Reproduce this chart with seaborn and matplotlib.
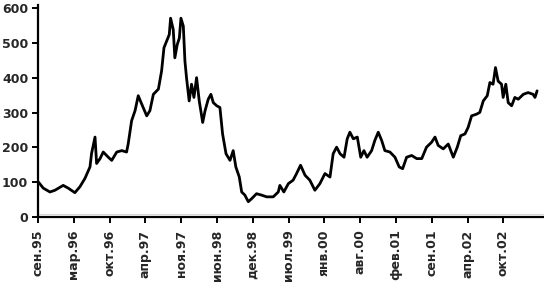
import matplotlib
matplotlib.use("Agg")
import matplotlib.pyplot as plt
import seaborn as sns
import pandas as pd

# trading-day index (approximate) and index values
day = [1, 20, 45, 64, 95, 114, 139, 158, 177, 196, 202, 215, 221, 234, 246, 265,
       278, 297, 316, 334, 340, 353, 366, 378, 391, 410, 422, 435, 454, 466, 475,
       485, 495, 500, 510, 516, 525, 533, 539, 548, 554, 560, 570, 579, 588, 598,
       608, 621, 630, 642, 652, 661, 674, 686, 696, 709, 724, 736, 746, 759, 768,
       780, 793, 806, 824, 843, 862, 887, 906, 912, 927, 944, 962, 975, 990, 1007,
       1025, 1044, 1063, 1082, 1101, 1113, 1126, 1139, 1154, 1166, 1176, 1189,
       1204, 1217, 1229, 1241, 1258, 1270, 1283, 1296, 1308, 1327, 1346, 1362,
       1375, 1390, 1409, 1428, 1447, 1465, 1484, 1497, 1509, 1528, 1547, 1566,
       1581, 1594, 1610, 1622, 1635, 1654, 1666, 1679, 1694, 1704, 1716, 1725,
       1735, 1748, 1754, 1764, 1773, 1786, 1798, 1811, 1830, 1848, 1867, 1874, 1882]
value = [101, 83, 72, 77, 91, 83, 70, 87, 111, 144, 183, 230, 154, 168, 187, 172,
         163, 187, 191, 187, 210, 277, 306, 349, 325, 291, 306, 353, 368, 420, 487,
         506, 525, 572, 539, 458, 496, 515, 572, 549, 449, 401, 334, 382, 344, 401,
         334, 272, 306, 339, 353, 329, 320, 315, 239, 182, 163, 191, 144, 115, 72,
         63, 44, 53, 67, 63, 58, 58, 72, 91, 72, 96, 106, 125, 149, 120,
         106, 77, 96, 125, 115, 182, 201, 182, 172, 225, 244, 225,
         230, 172, 191, 172, 191, 220, 244, 220, 191, 187, 172, 144,
         139, 172, 177, 168, 168, 201, 215, 230, 206, 196, 210, 172,
         201, 234, 239, 258, 291, 296, 301, 334, 349, 387, 382, 430,
         391, 382, 344, 382, 329, 320, 344, 339, 353, 358, 353, 344, 363]

tick_labels = ["сен.95", "мар.96", "окт.96", "апр.97", "ноя.97", "июн.98", "дек.98",
               "июл.99", "янв.00", "авг.00", "фев.01", "сен.01", "апр.02", "окт.02"]
tick_step = 135
y_ticks = [0, 100, 200, 300, 400, 500, 600]

sns.set_style("white")
plt.rcParams["font.family"] = ["DejaVu Sans"]

df = pd.DataFrame({"day": day, "value": value})

fig = plt.figure(figsize=(5.44, 2.84), dpi=100)
ax = fig.add_axes([38 / 544, 1 - 217 / 284, 1 - 38 / 544, 212 / 284])

sns.lineplot(data=df, x="day", y="value", ax=ax, color="black", linewidth=2.0)

ax.set_xlim(0, 1908)
ax.set_ylim(0, 610)
ax.set_xticks([i * tick_step for i in range(len(tick_labels))])
ax.set_xticklabels(tick_labels, rotation=90, fontsize=9, fontweight="bold")
ax.set_yticks(y_ticks)
ax.set_yticklabels([str(v) for v in y_ticks], fontsize=9, fontweight="bold")
ax.set_xlabel("")
ax.set_ylabel("")
ax.axhline(10, color="#d8d8d8", linewidth=0.8, zorder=0)

for s in ["top", "right"]:
    ax.spines[s].set_visible(False)
for s in ["left", "bottom"]:
    ax.spines[s].set_color("black")
    ax.spines[s].set_linewidth(1.6)
ax.tick_params(axis="both", direction="out", length=4, width=1.4, color="black",
               bottom=True, left=True)
ax.tick_params(axis="x", pad=5)
ax.tick_params(axis="y", pad=3)

fig.savefig("out.png", dpi=100, facecolor="white")
